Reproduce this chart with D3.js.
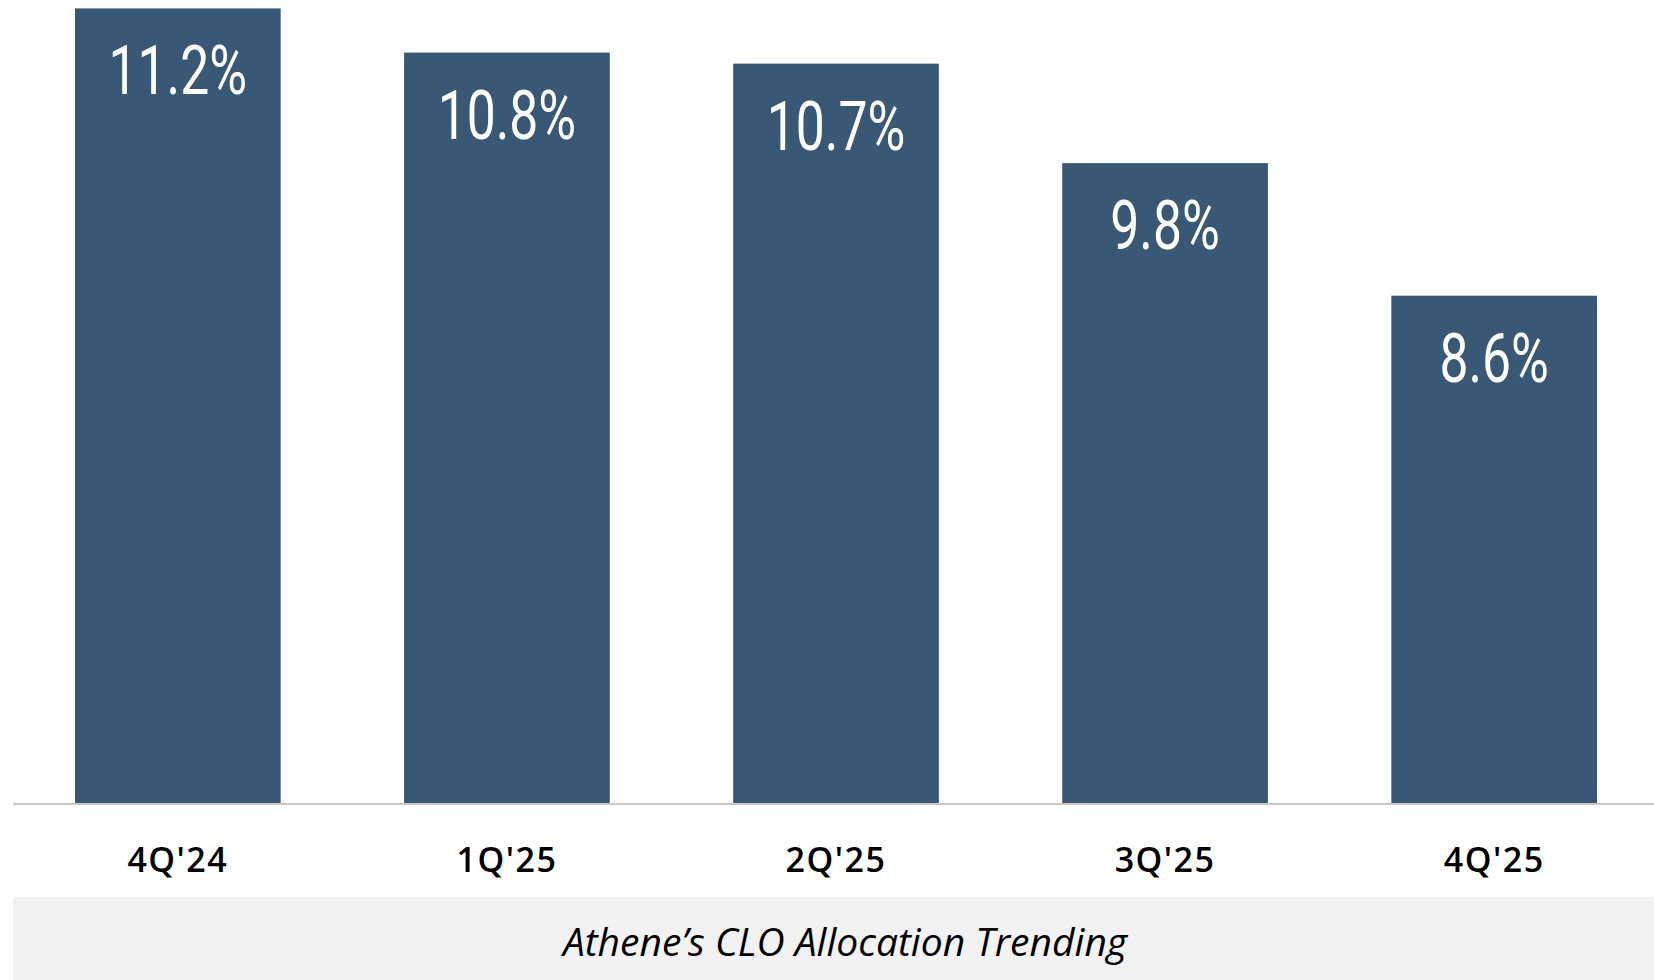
<!DOCTYPE html>
<html>
<head>
<meta charset="utf-8">
<script src="https://cdn.jsdelivr.net/npm/d3@7"></script>
<style>
  html, body { margin: 0; padding: 0; background: #ffffff; }
  svg { display: block; }
</style>
</head>
<body>
<svg id="chart" width="1654" height="980"></svg>
<script>
const categories = ["4Q'24", "1Q'25", "2Q'25", "3Q'25", "4Q'25"];
const values = [11.2, 10.8, 10.7, 9.8, 8.6];
const valueLabels = ["11.2%", "10.8%", "10.7%", "9.8%", "8.6%"];
const caption = "Athene\u2019s CLO Allocation Trending";

const svg = d3.select("#chart");
const W = 1654, H = 980;
const baseY = 804;

const x = d3.scaleBand()
  .domain(categories)
  .range([75, 1597])
  .paddingInner(0.375)
  .paddingOuter(0);

const y = d3.scaleLinear()
  .domain([4, 11.2])
  .range([baseY, 8.4]);

// bars
svg.append("g").selectAll("rect")
  .data(categories)
  .join("rect")
  .attr("x", d => x(d))
  .attr("width", x.bandwidth())
  .attr("y", (d, i) => y(values[i]))
  .attr("height", (d, i) => baseY - y(values[i]))
  .attr("fill", "#395876");

// value labels
const sx = 0.76;
svg.append("g").selectAll("text")
  .data(categories)
  .join("text")
  .attr("transform", (d, i) => `translate(${x(d) + x.bandwidth() / 2},${y(values[i]) + 86}) scale(${sx},1)`)
  .attr("text-anchor", "middle")
  .attr("font-family", "Roboto, 'Liberation Sans', sans-serif")
  .attr("font-weight", 400)
  .attr("font-size", 68)
  .attr("fill", "#ffffff")
  .text((d, i) => valueLabels[i]);

// x axis
const xAxis = d3.axisBottom(x).tickSize(0).tickPadding(0);
const gx = svg.append("g")
  .attr("transform", `translate(0,${baseY})`)
  .call(xAxis);
gx.select(".domain").remove();
gx.append("line")
  .attr("x1", 13).attr("x2", W)
  .attr("y1", 0).attr("y2", 0)
  .attr("stroke", "#c8c8c8")
  .attr("stroke-width", 2);
gx.selectAll(".tick text")
  .attr("dy", 0)
  .attr("y", 68)
  .attr("font-family", "'Open Sans', 'Noto Sans', sans-serif")
  .attr("font-weight", 600)
  .attr("font-size", 34)
  .attr("letter-spacing", 1.5)
  .attr("fill", "#000000");

// caption band
svg.append("rect")
  .attr("x", 13).attr("y", 897)
  .attr("width", W - 13).attr("height", H - 897)
  .attr("fill", "#f2f2f2");
svg.append("text")
  .attr("x", 845).attr("y", 956)
  .attr("text-anchor", "middle")
  .attr("font-family", "'Open Sans', 'Noto Sans', sans-serif")
  .attr("font-style", "italic")
  .attr("font-size", 39)
  .attr("fill", "#000000")
  .text(caption);
</script>
</body>
</html>
